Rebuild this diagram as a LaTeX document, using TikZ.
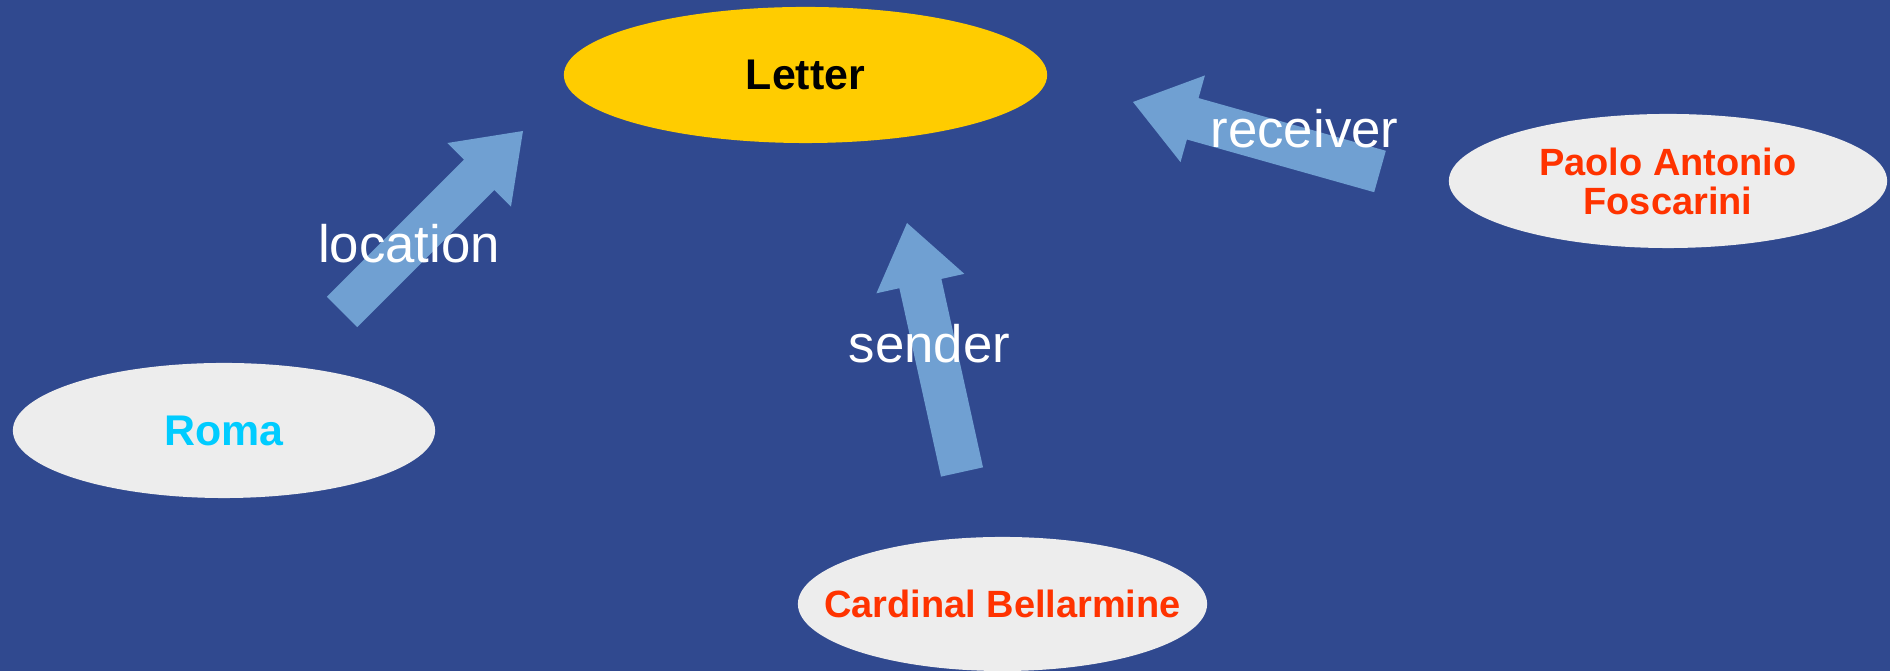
\documentclass[tikz,border=0pt]{standalone}
\usepackage{fontspec}
\setmainfont{Liberation Sans}
\usetikzlibrary{shapes.geometric,calc}
\definecolor{bgblue}{HTML}{30498F}
\definecolor{arrowblue}{HTML}{70A0D2}
\definecolor{nodegray}{HTML}{EDEDED}
\definecolor{lettergold}{HTML}{FFCC00}
\definecolor{romacyan}{HTML}{00CCFF}
\definecolor{namered}{HTML}{FF3300}
\tikzset{
  oval/.style={ellipse, inner xsep=-1.5cm, inner ysep=0pt, fill=nodegray, font=\bfseries\fontsize{10.8}{11.1}\selectfont, align=center},
  rel/.style={text=white, font=\fontsize{15}{18}\selectfont, anchor=base, inner sep=0pt},
  arrowfill/.style={fill=arrowblue},
}
% block arrow from tail #1 to tip #2
\newcommand{\blockarrow}[2]{%
  \coordinate (#1-hb) at ($(#2)!0.62cm!(#1)$);
  \fill[arrowfill] ($(#1)!0.215cm!90:(#2)$) -- ($(#1-hb)!0.215cm!-90:(#1)$)
    -- ($(#1-hb)!0.45cm!-90:(#1)$) -- (#2) -- ($(#1-hb)!0.45cm!90:(#1)$)
    -- ($(#1-hb)!0.215cm!90:(#1)$) -- ($(#1)!0.215cm!-90:(#2)$) -- cycle;}
\begin{document}
\begin{tikzpicture}[x=0.01cm,y=-0.01cm]
\useasboundingbox (0,0) rectangle (1890,671);
\fill[bgblue] (0,0) rectangle (1890,671);
% nodes
\node[oval, fill=lettergold, minimum width=4.83cm, minimum height=1.36cm, font=\bfseries\fontsize{12.2}{14}\selectfont] (letter) at (805.5,75) {Letter};
\node[oval, minimum width=4.22cm, minimum height=1.35cm, text=romacyan, font=\bfseries\fontsize{12.2}{14}\selectfont] (roma) at (224,430.5) {Roma};
\node[oval, minimum width=4.38cm, minimum height=1.34cm, text=namered] (paolo) at (1668,181) {Paolo Antonio\\Foscarini};
\node[oval, minimum width=4.09cm, minimum height=1.34cm, text=namered] (cardinal) at (1002.5,604) {Cardinal Bellarmine};
% arrows
\coordinate (locT) at (342,312);
\coordinate (locH) at (523,131);
\coordinate (sndT) at (962,472);
\coordinate (sndH) at (907,223);
\coordinate (rcvT) at (1380,171.5);
\coordinate (rcvH) at (1133,102);
\blockarrow{locT}{locH}
\blockarrow{sndT}{sndH}
\blockarrow{rcvT}{rcvH}
% labels
\node[rel] (loclabel) at (409,263) {location};
\node[rel] (sndlabel) at (929.5,363) {sender};
\node[rel] (rcvlabel) at (1304.5,148) {receiver};
\end{tikzpicture}
\end{document}
